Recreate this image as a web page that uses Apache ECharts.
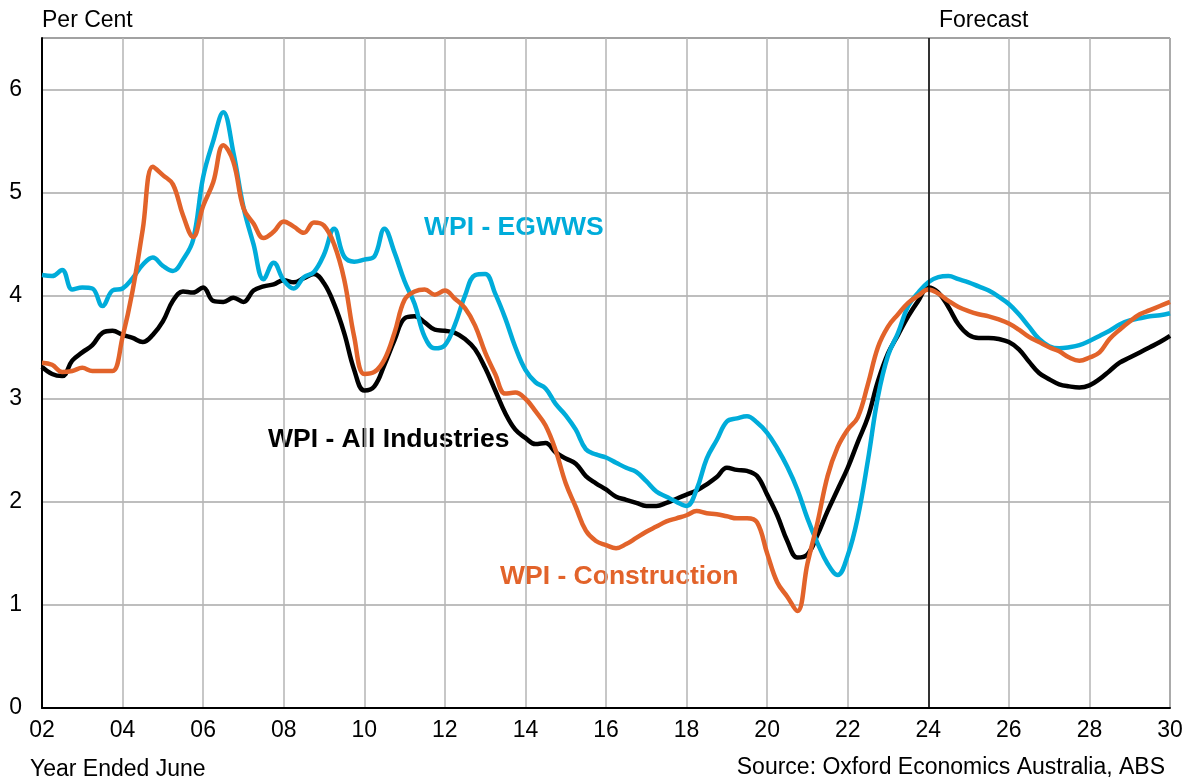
<!DOCTYPE html>
<html>
<head>
<meta charset="utf-8">
<script src="https://cdn.jsdelivr.net/npm/echarts@6/dist/echarts.min.js"></script>
<style>
  html, body { margin: 0; padding: 0; background: #fff; }
  #chart { width: 1192px; height: 780px; }
</style>
</head>
<body>
<div id="chart"></div>
<script>
// quarterly, year ended June, 2002 to 2030
const quarters = [];
for (let i = 0; i <= 112; i++) quarters.push(2002 + i / 4);

const allIndustries = [
  3.31, 3.24, 3.22, 3.37, 3.45, 3.52, 3.64, 3.66,
  3.62, 3.59, 3.55, 3.62, 3.75, 3.95, 4.04, 4.03,
  4.08, 3.95, 3.94, 3.98, 3.94, 4.05, 4.09, 4.11,
  4.15, 4.13, 4.17, 4.21, 4.12, 3.92, 3.64, 3.28,
  3.08, 3.12, 3.33, 3.57, 3.78, 3.80, 3.74, 3.67,
  3.66, 3.64, 3.58, 3.48, 3.30, 3.08, 2.86, 2.70,
  2.62, 2.56, 2.57, 2.48, 2.42, 2.37, 2.25, 2.18,
  2.12, 2.05, 2.02, 1.99, 1.96, 1.96, 1.99, 2.03,
  2.07, 2.11, 2.17, 2.24, 2.33, 2.31, 2.30, 2.25,
  2.07, 1.87, 1.62, 1.46, 1.49, 1.68, 1.91, 2.12,
  2.33, 2.58, 2.82, 3.17, 3.44, 3.62, 3.80, 3.95,
  4.08, 4.03, 3.89, 3.72, 3.62, 3.59, 3.59, 3.58,
  3.55, 3.48, 3.36, 3.25, 3.19, 3.14, 3.12, 3.11,
  3.13, 3.19, 3.27, 3.35, 3.40, 3.45, 3.50, 3.55,
  3.61
];

const egwws = [
  4.20, 4.19, 4.25, 4.06, 4.08, 4.07, 3.90, 4.05,
  4.07, 4.17, 4.30, 4.37, 4.29, 4.24, 4.35, 4.54,
  5.15, 5.50, 5.78, 5.39, 4.86, 4.50, 4.16, 4.32,
  4.15, 4.07, 4.18, 4.23, 4.40, 4.65, 4.38, 4.33,
  4.35, 4.38, 4.65, 4.42, 4.14, 3.92, 3.60, 3.49,
  3.52, 3.72, 4.00, 4.20, 4.21, 4.02, 3.78, 3.50,
  3.28, 3.16, 3.10, 2.95, 2.84, 2.70, 2.51, 2.46,
  2.43, 2.38, 2.33, 2.29, 2.20, 2.10, 2.05, 2.00,
  1.96, 2.12, 2.42, 2.60, 2.78, 2.81, 2.83, 2.77,
  2.67, 2.52, 2.34, 2.12, 1.84, 1.60, 1.40, 1.29,
  1.48, 1.85, 2.40, 3.02, 3.42, 3.64, 3.90, 4.03,
  4.13, 4.18, 4.19, 4.16, 4.13, 4.09, 4.05, 3.99,
  3.92, 3.82, 3.70, 3.58, 3.51, 3.49, 3.50, 3.52,
  3.56, 3.61, 3.66, 3.72, 3.76, 3.78, 3.80, 3.81,
  3.83
];

const construction = [
  3.35, 3.33, 3.26, 3.27, 3.30, 3.27, 3.27, 3.27,
  3.60, 4.05, 4.64, 5.25, 5.17, 5.08, 4.78, 4.57,
  4.87, 5.10, 5.46, 5.30, 4.85, 4.70, 4.56, 4.62,
  4.72, 4.67, 4.61, 4.71, 4.68, 4.50, 4.16, 3.60,
  3.24, 3.26, 3.38, 3.64, 3.96, 4.04, 4.06, 4.01,
  4.05, 3.97, 3.88, 3.71, 3.45, 3.24, 3.05, 3.06,
  3.00, 2.88, 2.74, 2.50, 2.18, 1.95, 1.72, 1.62,
  1.58, 1.55, 1.59, 1.65, 1.71, 1.76, 1.81, 1.84,
  1.87, 1.91, 1.89, 1.88, 1.86, 1.84, 1.84, 1.80,
  1.50, 1.22, 1.08, 0.94, 1.40, 1.80, 2.25, 2.53,
  2.70, 2.82, 3.14, 3.50, 3.70, 3.82, 3.93, 4.00,
  4.06, 4.02, 3.95, 3.89, 3.85, 3.82, 3.80, 3.77,
  3.73, 3.67, 3.60, 3.55, 3.50, 3.46, 3.40, 3.37,
  3.40, 3.45, 3.58, 3.67, 3.75, 3.82, 3.86, 3.90,
  3.94
];

const forecastStart = 2024;

const font = '"Liberation Sans", Arial, sans-serif';
const blue = '#00ACDA';
const orange = '#E2632A';

function pairs(vals) {
  return vals.map((v, i) => [quarters[i], v]);
}

let myChart = echarts.init(document.getElementById('chart'));
myChart.setOption({
  animation: false,
  backgroundColor: '#fff',
  textStyle: { fontFamily: font },
  grid: {
    left: 42,
    right: 22,
    top: 38,
    bottom: 72,
    show: true,
    borderColor: '#222',
    borderWidth: 1,
    outerBoundsMode: 'none'
  },
  xAxis: {
    type: 'value',
    min: 2002,
    max: 2030,
    interval: 2,
    axisLine: { lineStyle: { color: '#000', width: 2 } },
    axisTick: { show: false },
    axisLabel: {
      color: '#000',
      fontSize: 23,
      fontFamily: font,
      margin: 11,
      formatter: v => String(v).slice(2)
    },
    splitLine: { show: true, lineStyle: { color: '#b4b4b4', width: 1.5 } }
  },
  yAxis: {
    type: 'value',
    min: 0,
    max: 6.5,
    interval: 1,
    axisLine: { show: true, lineStyle: { color: '#000', width: 2 } },
    axisTick: { show: false },
    axisLabel: {
      color: '#000',
      fontSize: 23,
      fontFamily: font,
      margin: 20,
      showMaxLabel: false
    },
    splitLine: { show: true, lineStyle: { color: '#a8a8a8', width: 1.5 } }
  },
  graphic: [
    { type: 'text', left: 42, top: 9, style: { text: 'Per Cent', fontSize: 23, fontFamily: font, fill: '#000' } },
    { type: 'text', left: 939, top: 9, style: { text: 'Forecast', fontSize: 23, fontFamily: font, fill: '#000' } },
    { type: 'text', left: 30, top: 758, style: { text: 'Year Ended June', fontSize: 23, fontFamily: font, fill: '#000' } },
    { type: 'text', right: 27, top: 756, style: { text: 'Source: Oxford Economics Australia, ABS', fontSize: 23, fontFamily: font, fill: '#000' } },
    { type: 'text', left: 424, top: 214, style: { text: 'WPI - EGWWS', fontSize: 26.5, fontWeight: 'bold', fontFamily: font, fill: blue } },
    { type: 'text', left: 268, top: 426, style: { text: 'WPI - All Industries', fontSize: 26.5, fontWeight: 'bold', fontFamily: font, fill: '#000' } },
    { type: 'text', left: 500, top: 563, style: { text: 'WPI - Construction', fontSize: 26.5, fontWeight: 'bold', fontFamily: font, fill: orange } }
  ],
  series: [
    {
      name: 'WPI - All Industries',
      type: 'line',
      data: pairs(allIndustries),
      smooth: 0.4,
      showSymbol: false,
      lineStyle: { color: '#000', width: 4.5 },
      markLine: {
        silent: true,
        symbol: 'none',
        label: { show: false },
        lineStyle: { color: '#000', width: 1.5, type: 'solid' },
        data: [{ xAxis: forecastStart }]
      }
    },
    {
      name: 'WPI - EGWWS',
      type: 'line',
      data: pairs(egwws),
      smooth: 0.4,
      showSymbol: false,
      lineStyle: { color: blue, width: 4.5 }
    },
    {
      name: 'WPI - Construction',
      type: 'line',
      data: pairs(construction),
      smooth: 0.4,
      showSymbol: false,
      lineStyle: { color: orange, width: 4.5 }
    }
  ]
});
window.onresize = myChart.resize;
</script>
</body>
</html>
